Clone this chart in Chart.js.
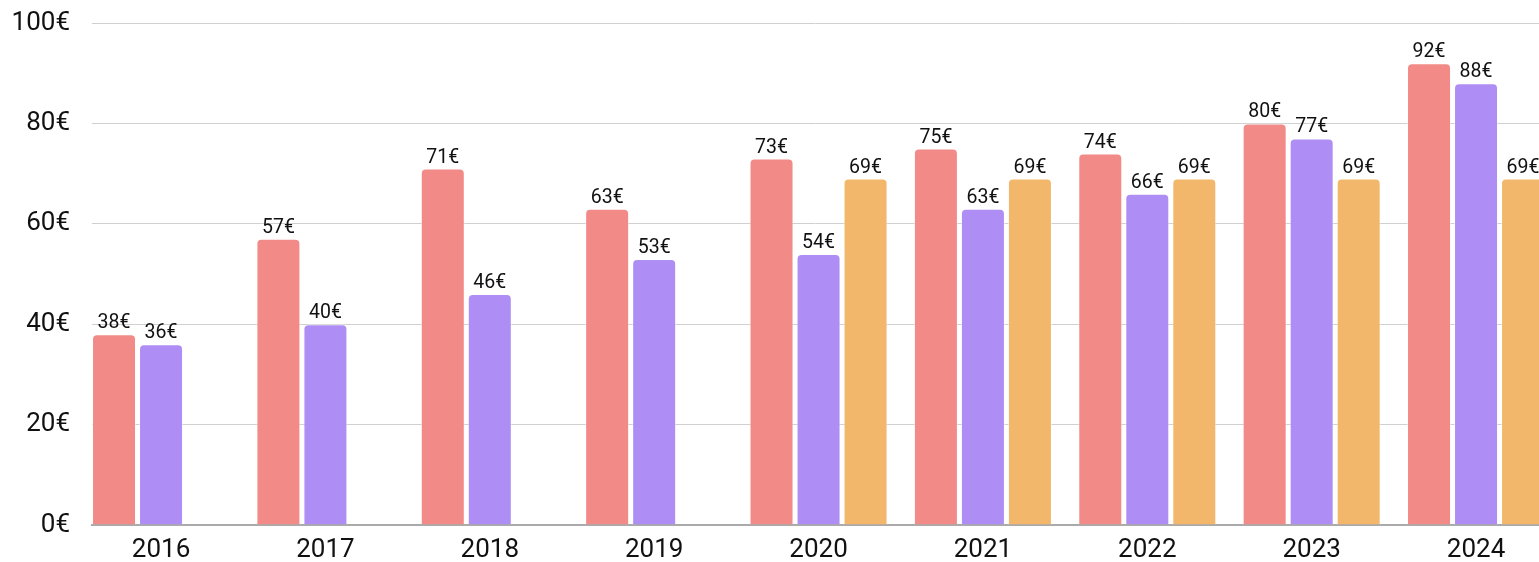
<!DOCTYPE html>
<html>
<head>
<meta charset="utf-8">
<script src="https://cdn.jsdelivr.net/npm/chart.js@4/dist/chart.umd.min.js"></script>
<style>
  html,body{margin:0;padding:0;background:#fff;overflow:hidden}
  #wrap{position:relative;width:1539px;height:562px}
</style>
</head>
<body>
<div id="wrap"><canvas id="prix"></canvas></div>
<script>
/* prix moyens par année, trois séries */
const annees = [2016, 2017, 2018, 2019, 2020, 2021, 2022, 2023, 2024];
const serieRouge  = [38, 57, 71, 63, 73, 75, 74, 80, 92];
const serieViolet = [36, 40, 46, 53, 54, 63, 66, 77, 88];
const serieOrange = [null, null, null, null, 69, 69, 69, 69, 69];
const yTicks = [0, 20, 40, 60, 80, 100];

const FONT = 'Roboto, "Liberation Sans", sans-serif';

// étiquettes "xx€" au-dessus de chaque barre
const valeurs = {
  id: 'valeurs',
  afterDatasetsDraw(chart){
    const ctx = chart.ctx;
    ctx.save();
    ctx.font = '19.5px ' + FONT;
    ctx.fillStyle = '#111';
    ctx.textAlign = 'center';
    ctx.textBaseline = 'alphabetic';
    chart.data.datasets.forEach((ds, i) => {
      chart.getDatasetMeta(i).data.forEach((bar, j) => {
        const v = ds.data[j];
        if (v == null) return;
        ctx.fillText(v + '€', bar.x, bar.y - 6);
      });
    });
    ctx.restore();
  }
};

const barre = (data, couleur) => ({
  data, backgroundColor: couleur, borderColor: 'rgba(255,255,255,0.5)', borderWidth: 1,
  borderRadius: 5, categoryPercentage: 0.858, barPercentage: 0.936
});

new Chart(document.getElementById('prix'), {
  type: 'bar',
  data: {
    labels: annees,
    datasets: [
      barre(serieRouge, '#f28a87'),
      barre(serieViolet, '#ae8ef4'),
      barre(serieOrange, '#f3b76b')
    ]
  },
  plugins: [valeurs],
  options: {
    responsive: true, maintainAspectRatio: false, animation: false,
    layout: { padding: { top: 23, right: 0, left: 0, bottom: 0 } },
    plugins: { legend: { display: false }, tooltip: { enabled: false } },
    scales: {
      x: {
        type: 'linear', min: 2015.58, max: 2024.383, offset: false,
        afterBuildTicks: s => { s.ticks = annees.map(v => ({ value: v })); },
        afterFit: s => { s.height = 37; s.paddingLeft = 0; s.paddingRight = 0; },
        grid: { display: false, drawTicks: false },
        border: { display: true, color: '#aaaaaa', width: 2 },
        ticks: { padding: 10, color: '#111', font: { family: FONT, size: 26 }, callback: v => String(v), autoSkip: false, maxRotation: 0 }
      },
      y: {
        min: 0, max: 100,
        afterBuildTicks: s => { s.ticks = yTicks.map(v => ({ value: v })); },
        afterFit: s => { s.width = 92; s.paddingTop = 0; s.paddingBottom = 0; },
        grid: { color: '#d0d0d0', drawTicks: false },
        border: { display: false },
        ticks: { padding: 22, color: '#111', font: { family: FONT, size: 26 }, callback: v => v + '€' }
      }
    }
  }
});
</script>
</body>
</html>
